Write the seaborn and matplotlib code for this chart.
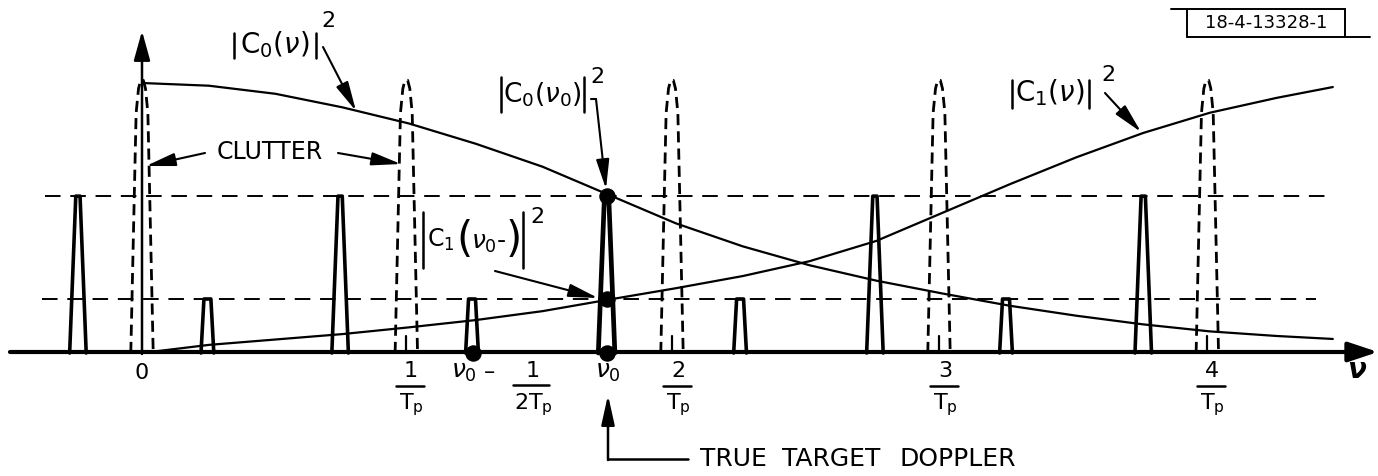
import matplotlib
matplotlib.use('Agg')
import matplotlib.pyplot as plt
import seaborn as sns
import pandas as pd

# frequency in units of 1/Tp, amplitude relative to |C0(0)|^2
nu_grid = [0.0, 0.25, 0.5, 0.75, 1.0, 1.25, 1.5, 1.75, 2.0, 2.25, 2.5,
           2.75, 3.0, 3.25, 3.5, 3.75, 4.0, 4.25, 4.46]
c0_vals = [1.0, 0.99, 0.96, 0.91, 0.85, 0.775, 0.69, 0.585, 0.48, 0.395, 0.325,
           0.268, 0.22, 0.175, 0.138, 0.106, 0.08, 0.063, 0.052]
c1_vals = [0.0, 0.03, 0.05, 0.07, 0.095, 0.122, 0.155, 0.198, 0.24, 0.285, 0.34,
           0.415, 0.52, 0.625, 0.725, 0.815, 0.89, 0.945, 0.985]

nu0 = 1.74
half_prf = 0.5                       # 1/(2Tp)
c0_at_nu0 = 0.581
c1_at_nu0m = 0.2

clutter_pos = [0.0, 0.99, 1.985, 2.985, 3.99]
clutter_h = 1.01
residue_h = 0.063
target_pos = [-0.24, 0.742, 1.74, 2.745, 3.75]
image_pos = [0.245, 1.236, 2.24, 3.236]

tick_pos = [0, 1, 2, 3, 4]
tick_num = ['0', '1', '2', '3', '4']

# pixel layout helper (reference is 1378x476)
W, H = 1378, 476
X0, YB, PXU, PXA = 142, 353, 267, 270


def P(x, y):
    return ((x - X0) / PXU, (YB - y) / PXA)


sns.set_theme(style='white')
plt.rcParams['font.family'] = ['DejaVu Sans']
plt.rcParams['mathtext.fontset'] = 'dejavusans'
plt.rcParams['mathtext.default'] = 'regular'
plt.rcParams['text.color'] = 'black'

fig = plt.figure(figsize=(W / 100, H / 100), dpi=100)
ax = fig.add_axes([0, 0, 1, 1])
ax.set_xlim(P(0, 0)[0], P(W, 0)[0])
ax.set_ylim(P(0, H)[1], P(0, 0)[1])
ax.axis('off')

curves = pd.DataFrame({'nu': nu_grid * 2, 'amp': c0_vals + c1_vals,
                       'curve': ['c0'] * len(nu_grid) + ['c1'] * len(nu_grid)})
sns.lineplot(data=curves, x='nu', y='amp', units='curve', estimator=None,
             color='black', lw=1.6, sort=False, ax=ax)

# dashed reference levels
ax.plot([P(45, 0)[0], P(1331, 0)[0]], [c0_at_nu0] * 2, color='black', lw=1.4,
        ls=(0, (8, 5)))
ax.plot([P(42, 0)[0], P(1316, 0)[0]], [c1_at_nu0m] * 2, color='black', lw=1.4,
        ls=(0, (8, 5)))

# clutter lines (dashed)
for c in clutter_pos:
    ax.plot([c - 0.042, c - 0.022, c - 0.013, c - 0.005, c + 0.005, c + 0.013,
             c + 0.022, c + 0.042],
            [0, clutter_h * 0.88, clutter_h * 0.97, clutter_h, clutter_h,
             clutter_h * 0.97, clutter_h * 0.88, 0],
            color='black', lw=2.0, ls=(0, (4, 2.2)))
for c in clutter_pos[1:]:
    ax.plot([c, c], [0, residue_h], color='black', lw=1.6)

# target responses
for c in target_pos:
    lw = 3.4 if c == nu0 else 2.6
    ax.plot([c - 0.031, c - 0.008, c + 0.008, c + 0.031],
            [0, c0_at_nu0, c0_at_nu0, 0], color='black', lw=lw)
for c in image_pos:
    ax.plot([c - 0.024, c - 0.013, c + 0.013, c + 0.024],
            [0, c1_at_nu0m, c1_at_nu0m, 0], color='black', lw=2.6)

sns.scatterplot(x=[nu0 - half_prf, nu0, nu0, nu0],
                y=[0, 0, c0_at_nu0, c1_at_nu0m],
                s=120, color='black', edgecolor='black', zorder=6, ax=ax)

# axes with arrows
axis_arrow = dict(arrowstyle='-|>,head_length=0.9,head_width=0.3', color='black',
                  lw=3, shrinkA=0, shrinkB=0, mutation_scale=20)
ax.annotate('', xy=P(1378, 352), xytext=P(10, 352), arrowprops=axis_arrow)
ax.annotate('', xy=P(142, 31), xytext=P(142, 354),
            arrowprops=dict(axis_arrow, lw=1.8,
                            arrowstyle='-|>,head_length=0.9,head_width=0.25'))

pointer = dict(arrowstyle='-|>,head_length=0.9,head_width=0.2', color='black',
               lw=1.5, shrinkA=0, shrinkB=0, mutation_scale=20)
fs = 16


def note(x, y, tip):
    ax.annotate('', xy=P(*tip), xytext=P(x, y), arrowprops=pointer)


def seg(x1, y1, x2, y2, lw=1.8):
    ax.plot(*zip(P(x1, y1), P(x2, y2)), color='black', lw=lw)


def magsq(xl, xr, ytop, ybot, inner, xc, yc, sup_xy, size=20):
    # |inner|^2 with tall bars
    seg(xl, ytop, xl, ybot)
    seg(xr, ytop, xr, ybot)
    if inner:
        ax.text(*P(xc, yc), inner, fontsize=size, ha='center', va='center')
    ax.text(*P(*sup_xy), '2', fontsize=fs, ha='center', va='center')


magsq(234, 316, 33, 58, r'C$_0$($\mathit{\nu}$)', 275, 45, (328, 21))
note(323, 47, (356, 111))

ax.text(*P(270, 152), 'CLUTTER', fontsize=fs + 1, ha='center', va='center')
note(205, 153, (146, 166))
note(338, 153, (401, 164))

magsq(501, 584, 77, 112, r'C$_0$($\mathit{\nu}_0$)', 542, 95, (597, 77), size=19)
seg(591, 99, 596, 99, lw=1.5)
note(596, 99, (606, 189))

magsq(423, 523, 212, 268, None, 0, 0, (537, 217))
ax.text(*P(427, 240), r'C$_1$', fontsize=17, ha='left', va='center')
ax.text(*P(464, 240), '(', fontsize=30, ha='center', va='center')
ax.text(*P(489, 243), '$\\mathit{\\nu}_0$\u2010', fontsize=18, ha='center',
        va='center')
ax.text(*P(514, 240), ')', fontsize=30, ha='center', va='center')
note(495, 271, (598, 298))

magsq(1012, 1089, 80, 108, r'C$_1$($\mathit{\nu}$)', 1050, 93, (1108, 75))
note(1105, 93, (1141, 132))

# tick labels
for c, n in zip(tick_pos, tick_num):
    xp = X0 + c * PXU
    if n == '0':
        ax.text(*P(xp, 373), n, fontsize=fs, ha='center', va='center')
        continue
    ax.text(*P(xp + 2, 371), n, fontsize=fs, ha='center', va='center')
    seg(xp - 13, 386, xp + 15, 386)
    ax.text(*P(xp + 2, 405), 'T$_p$', fontsize=fs, ha='center', va='center')

xm = X0 + (nu0 - half_prf) * PXU
ax.text(*P(xm - 22, 372), r'$\mathit{\nu}_0$', fontsize=fs + 2, ha='left', va='center')
ax.text(*P(xm + 16, 372), '\u2013', fontsize=fs, ha='center', va='center')
ax.text(*P(xm + 60, 371), '1', fontsize=fs, ha='center', va='center')
seg(xm + 40, 385, xm + 76, 385)
ax.text(*P(xm + 60, 405), '2T$_p$', fontsize=fs, ha='center', va='center')

xn = X0 + nu0 * PXU
ax.text(*P(xn - 12, 372), r'$\mathit{\nu}_0$', fontsize=fs + 2, ha='left', va='center')
ax.text(*P(1357, 370), '\u03bd', fontsize=fs + 4, ha='center', va='center',
        style='italic', weight='bold')

# true target doppler pointer
seg(688, 459, 608, 459)
ax.annotate('', xy=P(608, 395), xytext=P(608, 460),
            arrowprops=dict(pointer, lw=1.8))
for word, xw in zip(['TRUE', 'TARGET', 'DOPPLER'], [700, 782, 900]):
    ax.text(*P(xw, 459), word, fontsize=18, ha='left', va='center')

# figure number box
seg(1171, 9, 1345, 9, lw=1.4)
seg(1187, 37, 1370, 37, lw=1.4)
seg(1187, 9, 1187, 37, lw=1.4)
seg(1345, 9, 1345, 37, lw=1.4)
ax.text(*P(1266, 23), '18-4-13328-1', fontsize=13, ha='center', va='center')

fig.savefig('out.png', dpi=100)
